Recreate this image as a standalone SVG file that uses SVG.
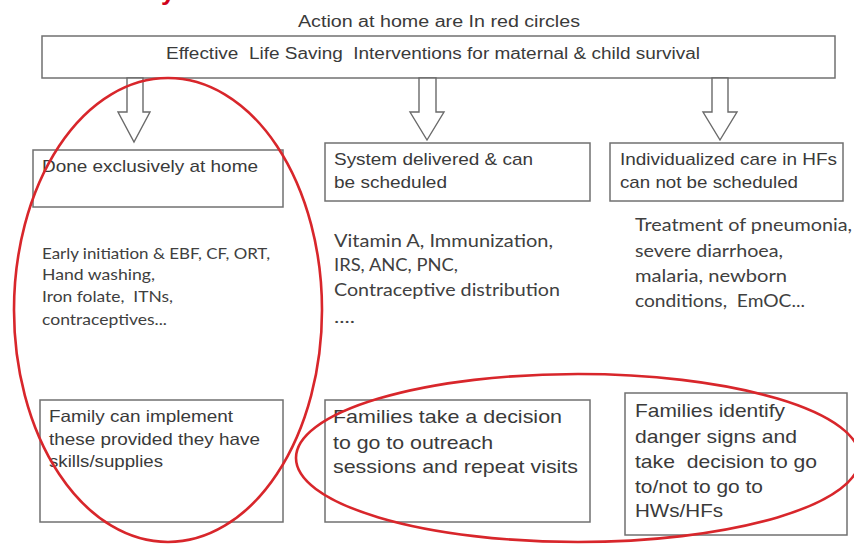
<svg xmlns="http://www.w3.org/2000/svg" width="854" height="544" viewBox="0 0 854 544">
<style>
.bx{fill:#fff;stroke:#707070;stroke-width:1.5}
.ar{fill:#fff;stroke:#6a6a6a;stroke-width:1.4;stroke-linejoin:miter}
.a{font-family:"Liberation Sans",Arial,sans-serif;fill:#3a3a3a}
.c{font-family:Lato,"Open Sans",sans-serif;fill:#404040}
.red{fill:none;stroke:#d8262b;stroke-width:2.6}
</style>
<rect width="854" height="544" fill="#fff"/>
<text x="161" y="0" font-family="Liberation Sans,Arial,sans-serif" font-weight="bold" font-size="26" fill="#d0021b">y</text>
<text class="a" x="298" y="27" font-size="16" textLength="282" lengthAdjust="spacingAndGlyphs">Action at home are In red circles</text>

<g id="top">
<rect class="bx" x="42" y="36" width="793" height="42"/>
<text class="a" x="166" y="59" font-size="16" textLength="534" lengthAdjust="spacingAndGlyphs">Effective &#160;Life Saving &#160;Interventions for maternal &amp; child survival</text>
</g>

<g id="connectors">
<polygon class="ar" points="127,78 143,78 143,112 150,112 134,142 118,112 127,112"/>
<polygon class="ar" points="419,78 436,78 436,112 444,112 427,140 410,112 419,112"/>
<polygon class="ar" points="712,78 728,78 728,112 737,112 720,140 703,112 712,112"/>
</g>

<g id="home">
<rect class="bx" x="33" y="150" width="250" height="57"/>
<text class="a" x="42" y="172" font-size="17" textLength="216" lengthAdjust="spacingAndGlyphs">Done exclusively at home</text>
</g>
<g id="home-list">
<text class="c" font-size="15">
<tspan x="42" y="259" textLength="228" lengthAdjust="spacingAndGlyphs">Early initiation &amp; EBF, CF, ORT,</tspan>
<tspan x="42" y="280" textLength="113" lengthAdjust="spacingAndGlyphs">Hand washing,</tspan>
<tspan x="42" y="302" textLength="131" lengthAdjust="spacingAndGlyphs">Iron folate, &#160;ITNs,</tspan>
<tspan x="42" y="325" textLength="125" lengthAdjust="spacingAndGlyphs">contraceptives...</tspan>
</text>
</g>

<g id="system">
<rect class="bx" x="325" y="143" width="265" height="58"/>
<text class="a" font-size="17">
<tspan x="334" y="165" textLength="199" lengthAdjust="spacingAndGlyphs">System delivered &amp; can</tspan>
<tspan x="334" y="188" textLength="113" lengthAdjust="spacingAndGlyphs">be scheduled</tspan>
</text>
</g>
<g id="system-list">
<text class="c" font-size="17">
<tspan x="334" y="247" textLength="219" lengthAdjust="spacingAndGlyphs">Vitamin A, Immunization,</tspan>
<tspan x="334" y="271" textLength="124" lengthAdjust="spacingAndGlyphs">IRS, ANC, PNC,</tspan>
<tspan x="334" y="296" textLength="226" lengthAdjust="spacingAndGlyphs">Contraceptive distribution</tspan>
<tspan x="334" y="323" textLength="21" lengthAdjust="spacingAndGlyphs">....</tspan>
</text>
</g>

<g id="individual">
<rect class="bx" x="610" y="143" width="233" height="58"/>
<text class="a" font-size="17">
<tspan x="620" y="165" textLength="217" lengthAdjust="spacingAndGlyphs">Individualized care in HFs</tspan>
<tspan x="620" y="188" textLength="178" lengthAdjust="spacingAndGlyphs">can not be scheduled</tspan>
</text>
</g>
<g id="individual-list">
<text class="c" font-size="17">
<tspan x="635" y="231" textLength="217" lengthAdjust="spacingAndGlyphs">Treatment of pneumonia,</tspan>
<tspan x="635" y="257" textLength="148" lengthAdjust="spacingAndGlyphs">severe diarrhoea,</tspan>
<tspan x="635" y="282" textLength="152" lengthAdjust="spacingAndGlyphs">malaria, newborn</tspan>
<tspan x="635" y="307" textLength="170" lengthAdjust="spacingAndGlyphs">conditions, &#160;EmOC...</tspan>
</text>
</g>

<g id="family-implement">
<rect class="bx" x="40" y="400" width="243" height="122"/>
<text class="a" font-size="16.5">
<tspan x="49" y="422" textLength="184" lengthAdjust="spacingAndGlyphs">Family can implement</tspan>
<tspan x="49" y="445" textLength="211" lengthAdjust="spacingAndGlyphs">these provided they have</tspan>
<tspan x="49" y="467" textLength="114" lengthAdjust="spacingAndGlyphs">skills/supplies</tspan>
</text>
</g>

<g id="families-outreach">
<rect class="bx" x="325" y="400" width="265" height="122"/>
<text class="a" font-size="18.5">
<tspan x="333" y="423" textLength="229" lengthAdjust="spacingAndGlyphs">Families take a decision</tspan>
<tspan x="333" y="449" textLength="160" lengthAdjust="spacingAndGlyphs">to go to outreach</tspan>
<tspan x="333" y="473" textLength="245" lengthAdjust="spacingAndGlyphs">sessions and repeat visits</tspan>
</text>
</g>

<g id="families-danger">
<rect class="bx" x="625" y="393" width="222" height="142"/>
<text class="a" font-size="18.5">
<tspan x="635" y="417" textLength="150" lengthAdjust="spacingAndGlyphs">Families identify</tspan>
<tspan x="635" y="443" textLength="162" lengthAdjust="spacingAndGlyphs">danger signs and</tspan>
<tspan x="635" y="468" textLength="182" lengthAdjust="spacingAndGlyphs">take &#160;decision to go</tspan>
<tspan x="635" y="493" textLength="128" lengthAdjust="spacingAndGlyphs">to/not to go to</tspan>
<tspan x="635" y="517" textLength="88" lengthAdjust="spacingAndGlyphs">HWs/HFs</tspan>
</text>
</g>

<g id="red-circles">
<ellipse class="red" cx="168" cy="310" rx="154" ry="232"/>
<ellipse class="red" cx="578" cy="458" rx="282" ry="84"/>
</g>
</svg>
